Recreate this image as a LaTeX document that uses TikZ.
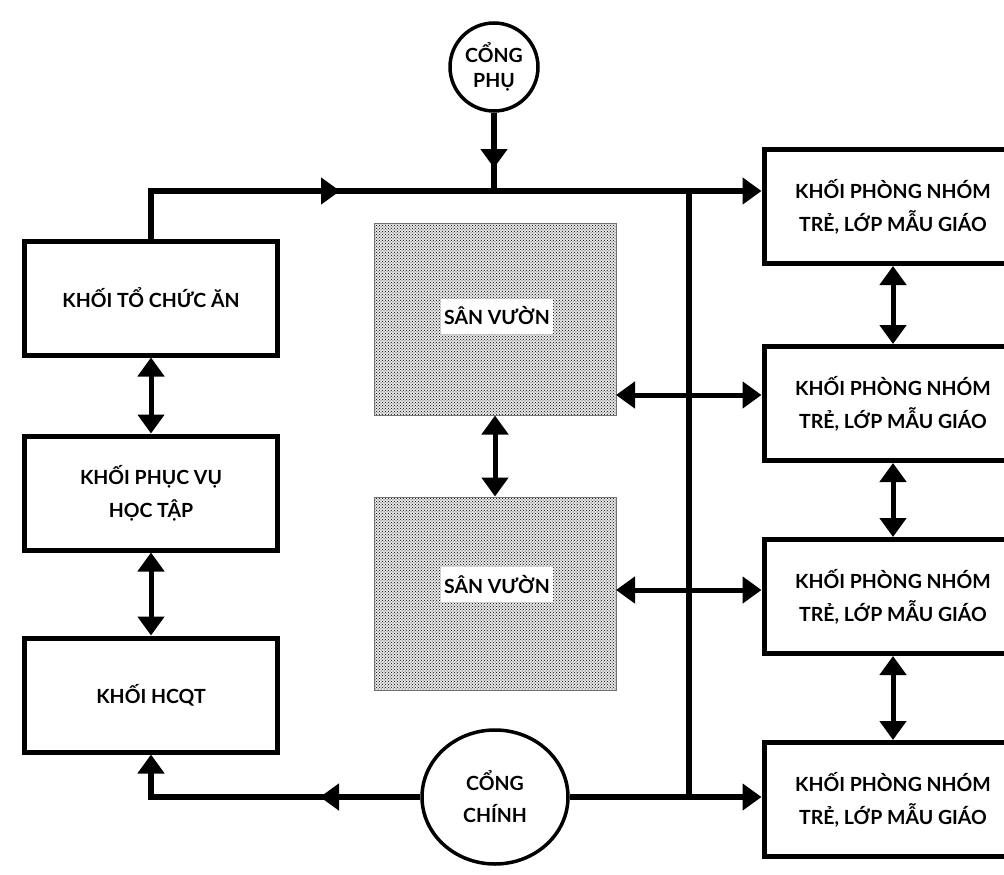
\documentclass[tikz,border=0pt]{standalone}
\usepackage{fontspec}
\setmainfont{Lato}
\usetikzlibrary{arrows.meta}
\usetikzlibrary{patterns}
\usetikzlibrary{shapes.geometric}

\begin{document}
\begin{tikzpicture}[x=1pt,y=-1pt,
  >={Triangle[length=19pt,width=26pt]},
  block/.style={draw, line width=5pt, fill=white, minimum width=253pt, minimum height=114pt, align=center, font=\bfseries\fontsize{19.5}{33}\selectfont},
  group/.style={block, minimum width=258pt},
  yard/.style={draw=black!55, line width=1pt, preaction={fill=black!10}, pattern=crosshatch dots, pattern color=black, minimum width=242pt, minimum height=192pt},
  yardlabel/.style={fill=white, inner xsep=3pt, minimum height=35pt, font=\bfseries\fontsize{19.5}{22}\selectfont},
  gate/.style={draw, line width=3.5pt, fill=white, align=center, inner sep=0pt, font=\bfseries\fontsize{19.5}{25}\selectfont},
  wire/.style={line width=6pt},
  link/.style={line width=5pt, <->}]
\path[use as bounding box, clip] (0,0) rectangle (1004,875);

\node[block] (food) at (151,298) {KHỐI TỔ CHỨC ĂN};
\node[block] (study) at (151,493) {KHỐI PHỤC VỤ\\HỌC TẬP};
\node[block] (admin) at (151,695) {KHỐI HCQT};

\node[group] (g1) at (893,206.5) {KHỐI PHÒNG NHÓM\\TRẺ, LỚP MẪU GIÁO};
\node[group] (g2) at (893,403.5) {KHỐI PHÒNG NHÓM\\TRẺ, LỚP MẪU GIÁO};
\node[group] (g3) at (893,596.5) {KHỐI PHÒNG NHÓM\\TRẺ, LỚP MẪU GIÁO};
\node[group] (g4) at (893,799.5) {KHỐI PHÒNG NHÓM\\TRẺ, LỚP MẪU GIÁO};

\node[yard] (yard1) at (495,319) {};
\node[yard, minimum height=193pt] (yard2) at (495,593.5) {};
\node[yardlabel] (lab1) at (497,316) {SÂN VƯỜN};
\node[yardlabel] (lab2) at (497,584) {SÂN VƯỜN};

\node[gate, circle, minimum size=88pt] (side) at (494,67) {CỔNG\\PHỤ};
\node[gate, ellipse, minimum width=146pt, minimum height=134pt, font=\bfseries\fontsize{19.5}{32}\selectfont] (main) at (495,797) {CỔNG\\CHÍNH};

\coordinate (top) at (689,191); % trunk top
\coordinate (bottom) at (689,797); % trunk bottom
\coordinate (y1e) at (616,395);
\coordinate (y2e) at (616,590);

% top line
\draw[wire, ->] (food.north) |- (340,191);
\draw[wire] (330,191) -- (top);
\draw[wire, ->] (top) -- (g1.west |- top);
\draw[wire, ->] (side.south) -- (494,168);
\draw[wire] (494,160) -- (494,191);
\draw[wire] (top) -- (bottom);

% bottom line
\draw[wire, ->] (main.west) -- (320,797);
\draw[wire, ->] (330,797) -| (admin.south);
\draw[wire, ->] (main.east) -- (g4.west |- main.east);

% double arrows
\draw[link] (food.south) -- (study.north);
\draw[link] (study.south) -- (admin.north);
\draw[link] (yard1.south) -- (yard2.north);
\draw[link] (y1e) -- (g2.west |- y1e);
\draw[link] (y2e) -- (g3.west |- y2e);
\draw[link] (g1.south) -- (g2.north);
\draw[link] (g2.south) -- (g3.north);
\draw[link] (g3.south) -- (g4.north);
\end{tikzpicture}
\end{document}
